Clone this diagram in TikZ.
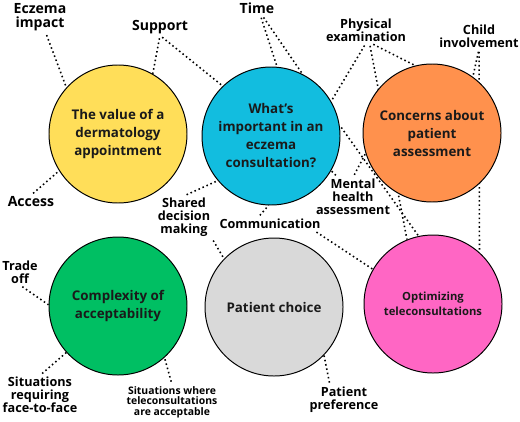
\documentclass[tikz,border=0pt]{standalone}
\usepackage{fontspec}
\setmainfont{Open Sans}
\usetikzlibrary{backgrounds}
\definecolor{thyellow}{HTML}{FFDE59}
\definecolor{thblue}{HTML}{12BDDF}
\definecolor{thorange}{HTML}{FF914D}
\definecolor{thgreen}{HTML}{00BF63}
\definecolor{thgray}{HTML}{D9D9D9}
\definecolor{thpink}{HTML}{FF66C4}
\definecolor{thtext}{HTML}{1A1A1A}

\begin{document}
\begin{tikzpicture}[
  theme/.style={circle, draw=black, line width=0.7pt, minimum size=3.45cm,
                inner sep=0pt, text=thtext, align=center,
                font=\fontsize{9.5}{12.8}\selectfont\bfseries},
  sub/.style={inner sep=1pt, align=center,
              font=\fontsize{9}{9.3}\selectfont\bfseries},
  sublg/.style={sub, font=\fontsize{10}{10}\selectfont\bfseries},
  subsm/.style={sub, font=\fontsize{7.4}{7.6}\selectfont\bfseries},
  link/.style={dotted, line width=1.1pt, shorten <=2pt}
]
  \useasboundingbox (0,0) rectangle (13,10.525);
  % themes
  \node[theme, fill=thyellow] (value)   at (2.95, 7.175)  {The value of a\\dermatology\\appointment};
  \node[theme, fill=thblue]   (consult) at (6.775, 7.125) {What’s\\important in an\\eczema\\consultation?};
  \node[theme, fill=thorange] (concern) at (10.8, 7.2)    {Concerns about\\patient\\assessment};
  \node[theme, fill=thgreen]  (complex) at (2.95, 2.875)  {Complexity of\\acceptability};
  \node[theme, fill=thgray]   (choice)  at (6.85, 2.85)   {Patient choice};
  \node[theme, fill=thpink, font=\fontsize{8}{10.7}\selectfont\bfseries]
                              (optim)   at (10.825, 2.925) {Optimizing\\teleconsultations};
  % subthemes
  \node[sublg] (impact)  at (1.0, 10.1)    {Eczema\\impact};
  \node[sublg] (support) at (4.0, 9.85)    {Support};
  \node[sublg] (access)  at (0.775, 5.475) {Access};
  \node[sublg] (time)    at (6.425, 10.325) {Time};
  \node[sub]   (phys)    at (9.15, 9.775)  {Physical\\examination};
  \node[sub]   (child)   at (11.975, 9.625) {Child\\involvement};
  \node[sub]   (mental)  at (8.825, 5.6)   {Mental\\health\\assessment};
  \node[sub]   (shared)  at (4.6, 5.1)     {Shared\\decision\\making};
  \node[sub]   (comm)    at (6.75, 4.925)  {Communication};
  \node[sub]   (trade)   at (0.5, 3.725)   {Trade\\off};
  \node[sub]   (face)    at (1.0, 0.65)    {Situations\\requiring\\face-to-face};
  \node[subsm] (accept)  at (4.3, 0.475)   {Situations where\\teleconsultations\\are acceptable};
  \node[sub]   (pref)    at (8.6, 0.525)   {Patient\\preference};
  % dotted links, behind the circles
  \begin{scope}[on background layer]
    \draw[link] (impact.-70) -- (value.138);
    \draw[link] (support.south) -- (value.60);
    \draw[link] (support.south) -- (consult.134);
    \draw[link] (access.north) -- (value.212);
    \draw[link] (time.-65) -- (consult.85);
    \draw[link] (time.-55) -- (consult.63);
    \draw[link] (phys.south) -- (consult.30);
    \draw[link] (phys.-70) -- (concern.104);
    \draw[link] (phys.-75) -- (optim.112);
    \draw[link] (child.south) -- (concern.54);
    \draw[link] (child.south) -- (optim.48);
    \draw[link] ([xshift=-0.38cm]mental.north) -- (consult.330);
    \draw[link] (mental.north) -- (concern.197);
    \draw[link] (consult.9) -- (optim.102);
    \draw[link] ([xshift=-0.3cm]comm.north) -- (consult.268);
    \draw[link] ([xshift=-0.2cm]comm.south east) -- (optim.150);
    \draw[link] (shared.north) -- (consult.220);
    \draw[link] (shared.south east) -- (choice.136);
    \draw[link] (trade.south) -- (complex.179);
    \draw[link] (face.north) -- (complex.222);
    \draw[link] (accept.north) -- (complex.312);
    \draw[link] ([xshift=-0.35cm]pref.north) -- (choice.316);
  \end{scope}
\end{tikzpicture}
\end{document}
